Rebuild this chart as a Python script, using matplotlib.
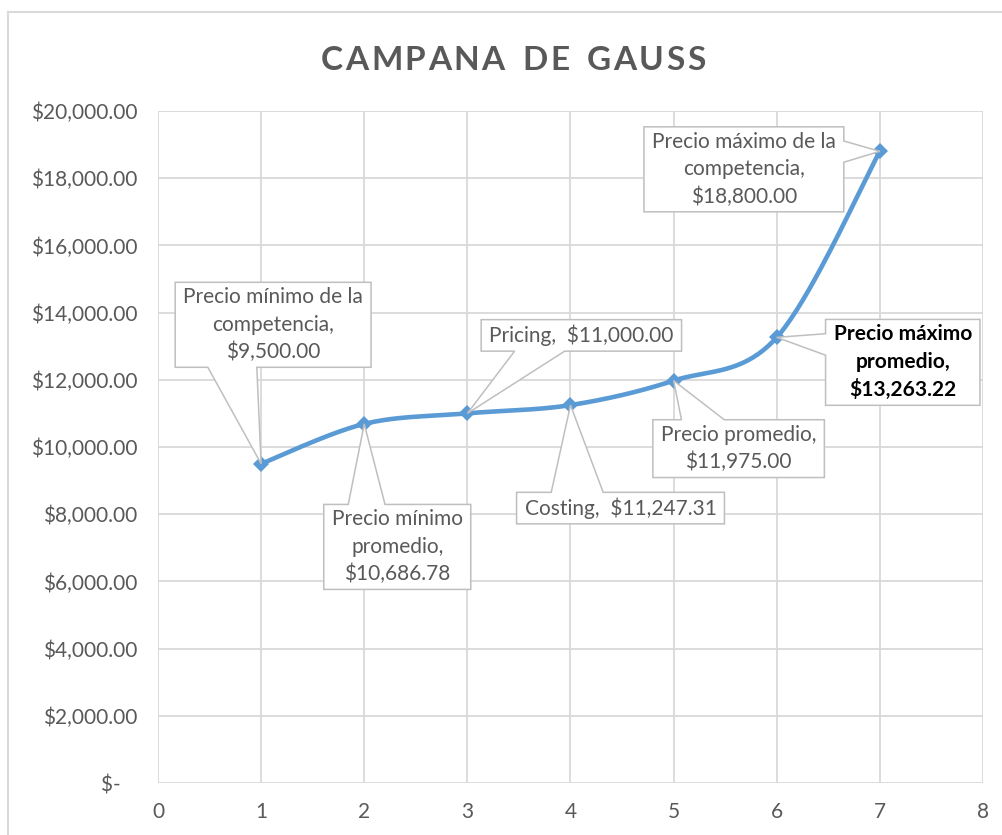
import numpy as np
import matplotlib
matplotlib.use('Agg')
import matplotlib.pyplot as plt
from matplotlib.patches import Polygon
from matplotlib.lines import Line2D
from matplotlib.ticker import FuncFormatter, MultipleLocator

# datos
x = [1, 2, 3, 4, 5, 6, 7]
precios = [9500.00, 10686.78, 11000.00, 11247.31, 11975.00, 13263.22, 18800.00]
nombres = ['Precio mínimo de la\ncompetencia,', 'Precio mínimo\npromedio,',
           'Pricing, ', 'Costing, ', 'Precio promedio,',
           'Precio máximo\npromedio,', 'Precio máximo de la\ncompetencia,']
separadores = ['\n', '\n', ' ', ' ', '\n', '\n', '\n']
titulo = 'CAMPANA DE GAUSS'

# posicion de cada etiqueta respecto al punto (pixeles)
offsets = [(12, 139), (33, -123), (114, 78), (50, -103), (65, -68), (126, -25), (-136, -18)]
negrita = [False, False, False, False, False, True, False]

GRIS = '#595959'
GRID = '#D9D9D9'
AZUL = '#5B9BD5'
FUENTE = ['Lato', 'DejaVu Sans']

plt.rcParams['font.family'] = FUENTE


def curva_suave(xs, ys, n=40):
    # bezier tipo Excel (catmull-rom, tension 1/6)
    p = np.column_stack([xs, ys]).astype(float)
    p_ext = np.vstack([p[0], p, p[-1]])
    out = []
    t = np.linspace(0, 1, n)[:, None]
    for i in range(len(p) - 1):
        p0, p1, p2, p3 = p_ext[i], p_ext[i + 1], p_ext[i + 2], p_ext[i + 3]
        c1 = p1 + (p2 - p0) / 6
        c2 = p2 - (p3 - p1) / 6
        seg = ((1 - t) ** 3) * p1 + 3 * ((1 - t) ** 2) * t * c1 + 3 * (1 - t) * t ** 2 * c2 + t ** 3 * p2
        out.append(seg if i == 0 else seg[1:])
    out = np.vstack(out)
    return out[:, 0], out[:, 1]


def formato_y(v, pos):
    if abs(v) < 1e-9:
        return '$-   '
    return f'${v:,.2f}'


fig = plt.figure(figsize=(10.03, 8.35), dpi=100)
ax = fig.add_axes([158 / 1003, 1 - 783 / 835, (983 - 158) / 1003, (783 - 111) / 835])

xs, ys = curva_suave(x, precios)
ax.plot(xs, ys, color=AZUL, lw=3.3, solid_capstyle='round', zorder=3)
ax.plot(x, precios, ls='none', marker='D', ms=8.5, color=AZUL, mew=0, zorder=3)

ax.set_xlim(0, 8)
ax.set_ylim(0, 20000)
ax.xaxis.set_major_locator(MultipleLocator(1))
ax.yaxis.set_major_locator(MultipleLocator(2000))
ax.yaxis.set_major_formatter(FuncFormatter(formato_y))
ax.grid(True, color=GRID, lw=1.3)
ax.set_axisbelow(True)
for s in ax.spines.values():
    s.set_visible(False)
ax.tick_params(axis='both', length=0, labelsize=15, labelcolor=GRIS)
ax.tick_params(axis='y', pad=15)
ax.tick_params(axis='x', pad=14)

# borde del area del grafico
fig.add_artist(Line2D([8 / 1003, 8 / 1003], [0, 1 - 12 / 835], color=GRID, lw=1.5))
fig.add_artist(Line2D([8 / 1003, 1], [1 - 12 / 835, 1 - 12 / 835], color=GRID, lw=1.5))

# etiquetas de datos
textos = []
for xi, yi, nom, sep, off, bold in zip(x, precios, nombres, separadores, offsets, negrita):
    etiqueta = f'{nom}{sep}${yi:,.2f}'
    t = ax.annotate(etiqueta, xy=(xi, yi), xytext=off, textcoords='offset pixels',
                    ha='center', va='center', multialignment='center',
                    fontsize=15, color='black' if bold else GRIS,
                    fontweight='bold' if bold else 'normal',
                    linespacing=1.45, zorder=6, annotation_clip=False)
    textos.append(t)

# titulo letra por letra para imitar el espaciado
letras = []
for ch in titulo:
    letras.append(fig.text(0, 1 - 60 / 835, ch, fontsize=24, fontweight='bold',
                           color=GRIS, ha='left', va='center'))

fig.canvas.draw()
renderer = fig.canvas.get_renderer()

espacio_letra = 2.5
espacio_palabra = 15.0
anchos = []
for t, ch in zip(letras, titulo):
    if ch == ' ':
        anchos.append(espacio_palabra)
    else:
        anchos.append(t.get_window_extent(renderer).width + espacio_letra)
total = sum(anchos) - espacio_letra
xpos = 513 - total / 2
for t, w in zip(letras, anchos):
    t.set_x(xpos / 1003)
    xpos += w

# cajas tipo "callout" de Excel
pad_x, pad_y = 8, 5
inv = fig.transFigure.inverted()
for t, xi, yi in zip(textos, x, precios):
    bb = t.get_window_extent(renderer)
    x0, x1 = bb.x0 - pad_x, bb.x1 + pad_x
    y0, y1 = bb.y0 - pad_y, bb.y1 + pad_y
    w, h = x1 - x0, y1 - y0
    cx, cy = (x0 + x1) / 2, (y0 + y1) / 2
    tx, ty = ax.transData.transform((xi, yi))
    dx, dy = tx - cx, ty - cy
    dq = dx * h / w
    if abs(dy) > abs(dq):
        g = (7, 10) if dx > 0 else (2, 5)
        bx1, bx2 = x0 + w * g[0] / 12, x0 + w * g[1] / 12
        if dy > 0:
            verts = [(x0, y1), (bx1, y1), (tx, ty), (bx2, y1), (x1, y1), (x1, y0), (x0, y0)]
        else:
            verts = [(x0, y1), (x1, y1), (x1, y0), (bx2, y0), (tx, ty), (bx1, y0), (x0, y0)]
    else:
        g = (7, 10) if dy < 0 else (2, 5)
        by1, by2 = y1 - h * g[0] / 12, y1 - h * g[1] / 12
        if dx > 0:
            verts = [(x0, y1), (x1, y1), (x1, by1), (tx, ty), (x1, by2), (x1, y0), (x0, y0)]
        else:
            verts = [(x0, y1), (x1, y1), (x1, y0), (x0, y0), (x0, by2), (tx, ty), (x0, by1)]
    poly = Polygon(inv.transform(verts), closed=True, transform=fig.transFigure,
                   facecolor='white', edgecolor='#BFBFBF', lw=1.1, zorder=5,
                   clip_on=False, joinstyle='miter')
    ax.add_artist(poly)

fig.savefig('out.png', dpi=100)
